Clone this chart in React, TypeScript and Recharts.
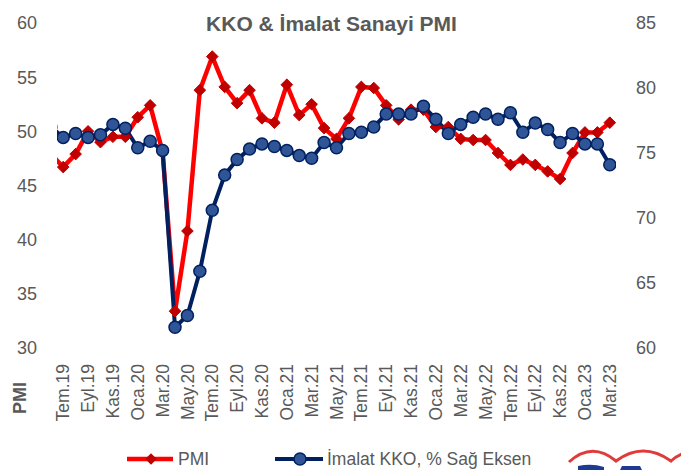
import React from 'react';
import { LineChart, Line, XAxis, YAxis } from 'recharts';

// Haz.19 is only partly visible at the left edge (clipped by the plot area)
const months = [
    'Haz.19', 'Tem.19', 'Ağu.19', 'Eyl.19', 'Eki.19', 'Kas.19', 'Ara.19',
    'Oca.20', 'Şub.20', 'Mar.20', 'Nis.20', 'May.20', 'Haz.20', 'Tem.20', 'Ağu.20', 'Eyl.20', 'Eki.20', 'Kas.20', 'Ara.20',
    'Oca.21', 'Şub.21', 'Mar.21', 'Nis.21', 'May.21', 'Haz.21', 'Tem.21', 'Ağu.21', 'Eyl.21', 'Eki.21', 'Kas.21', 'Ara.21',
    'Oca.22', 'Şub.22', 'Mar.22', 'Nis.22', 'May.22', 'Haz.22', 'Tem.22', 'Ağu.22', 'Eyl.22', 'Eki.22', 'Kas.22', 'Ara.22',
    'Oca.23', 'Şub.23', 'Mar.23',
];

const pmi = [
    47.9, 46.7, 47.9, 50.0, 49.0, 49.5, 49.5,
    51.3, 52.4, 48.1, 33.4, 40.8, 53.8, 56.9, 54.1, 52.6, 53.8, 51.2, 50.8,
    54.3, 51.5, 52.5, 50.3, 49.3, 51.2, 54.1, 54.0, 52.4, 51.1, 52.0, 52.0,
    50.4, 50.4, 49.3, 49.2, 49.2, 48.0, 46.9, 47.4, 46.9, 46.3, 45.6, 48.0,
    49.9, 49.9, 50.8,
];

const kko = [
    77.0, 76.2, 76.5, 76.2, 76.4, 77.2, 76.9,
    75.4, 75.9, 75.2, 61.6, 62.5, 65.9, 70.6, 73.3, 74.5, 75.3, 75.7, 75.5,
    75.2, 74.8, 74.6, 75.8, 75.4, 76.5, 76.6, 77.0, 78.0, 78.0, 78.0, 78.6,
    77.6, 76.5, 77.2, 77.75, 78.0, 77.6, 78.1, 76.6, 77.3, 76.8, 75.8, 76.5,
    75.7, 75.7, 74.1,
];

const leftTicks = [30, 35, 40, 45, 50, 55, 60];
const rightTicks = [60, 65, 70, 75, 80, 85];

const data = months.map((m, i) => ({ x: i - 1, month: m, pmi: pmi[i], kko: kko[i] }));
const xTicks = data.filter(d => d.x >= 0 && d.x % 2 === 0).map(d => d.x);

const FONT = '"Liberation Sans", Arial, sans-serif';
const GREY = '#595959';

const MonthTick = (props: any) => {
    const { x, y, payload } = props;
    const label = months[payload.value + 1];
    const ty = y + 16;
    return (
        <text x={x} y={ty} transform={`rotate(-90, ${x}, ${ty})`} textAnchor="end" dy="0.35em"
            fill={GREY} fontSize={17.5} fontFamily={FONT}>
            {label}
        </text>
    );
};

const Diamond = (props: any) => {
    const { cx, cy, index } = props;
    if (cx == null || cy == null) return <g key={`d${index}`} />;
    const r = 5.8;
    return (
        <path key={`d${index}`} d={`M${cx},${cy - r}L${cx + r},${cy}L${cx},${cy + r}L${cx - r},${cy}Z`}
            fill="#C00000" stroke="#C00000" strokeWidth={1} />
    );
};

export default function App() {
    return (
        <div style={{ position: 'relative', width: 681, height: 470, background: '#fff', overflow: 'hidden' }}>
            <style>{'body{margin:0}'}</style>
            <LineChart width={681} height={470} data={data}
                margin={{ top: 23, right: 0, bottom: 0, left: 0 }} style={{ fontFamily: FONT }}>
                <XAxis dataKey="x" type="number" domain={[-0.5, 44.5]} allowDataOverflow ticks={xTicks}
                    interval={0} axisLine={false} tickLine={false} tickSize={0} tickMargin={0}
                    height={122} tick={<MonthTick />} />
                <YAxis yAxisId="left" orientation="left" domain={[30, 60]} ticks={leftTicks} width={57}
                    axisLine={false} tickLine={false} tickSize={0} tickMargin={20}
                    tick={{ fill: GREY, fontSize: 18 }} />
                <YAxis yAxisId="right" orientation="right" domain={[60, 85]} ticks={rightTicks} width={65}
                    axisLine={false} tickLine={false} tickSize={0} tickMargin={20}
                    tick={{ fill: GREY, fontSize: 18 }} />
                <Line yAxisId="left" dataKey="pmi" stroke="#FF0000" strokeWidth={4.5} dot={<Diamond />}
                    isAnimationActive={false} />
                <Line yAxisId="right" dataKey="kko" stroke="#002060" strokeWidth={4}
                    dot={{ r: 6, fill: '#2F5597', stroke: '#002060', strokeWidth: 1.5 }}
                    isAnimationActive={false} />
            </LineChart>
            <svg width={681} height={470} style={{ position: 'absolute', left: 0, top: 0, pointerEvents: 'none', fontFamily: FONT }}>
                <text x={331.5} y={30.5} textAnchor="middle" fontWeight="bold" fontSize={21} fill={GREY}>
                    KKO &amp; İmalat Sanayi PMI
                </text>
                <text x={20} y={398} transform="rotate(-90, 20, 398)" textAnchor="middle" dy="0.35em"
                    fontWeight="bold" fontSize={18} fill={GREY}>
                    PMI
                </text>
                <line x1={127} y1={459} x2={173} y2={459} stroke="#FF0000" strokeWidth={4.5} />
                <path d="M151,453.2L156.8,459L151,464.8L145.2,459Z" fill="#C00000" />
                <text x={178} y={459} dy="0.35em" fontSize={17.5} fill={GREY}>PMI</text>
                <line x1={275} y1={459} x2={323} y2={459} stroke="#002060" strokeWidth={4} />
                <circle cx={300} cy={459} r={6} fill="#2F5597" stroke="#002060" strokeWidth={1.5} />
                <text x={327} y={459} dy="0.35em" fontSize={17.5} fill={GREY}>İmalat KKO, % Sağ Eksen</text>
                {/* partial logo at the bottom right edge */}
                <path d="M569,462 Q592,441 616,461 Q643,441 671,461 Q677,455 690,451" fill="none" stroke="#E03A3A" strokeWidth={3} />
                <path d="M578,470 L578,466 Q592,463 604,467 L604,470 Z M620,470 L622,466 L640,466 L642,470 Z" fill="#1F3A93" />
            </svg>
        </div>
    );
}
